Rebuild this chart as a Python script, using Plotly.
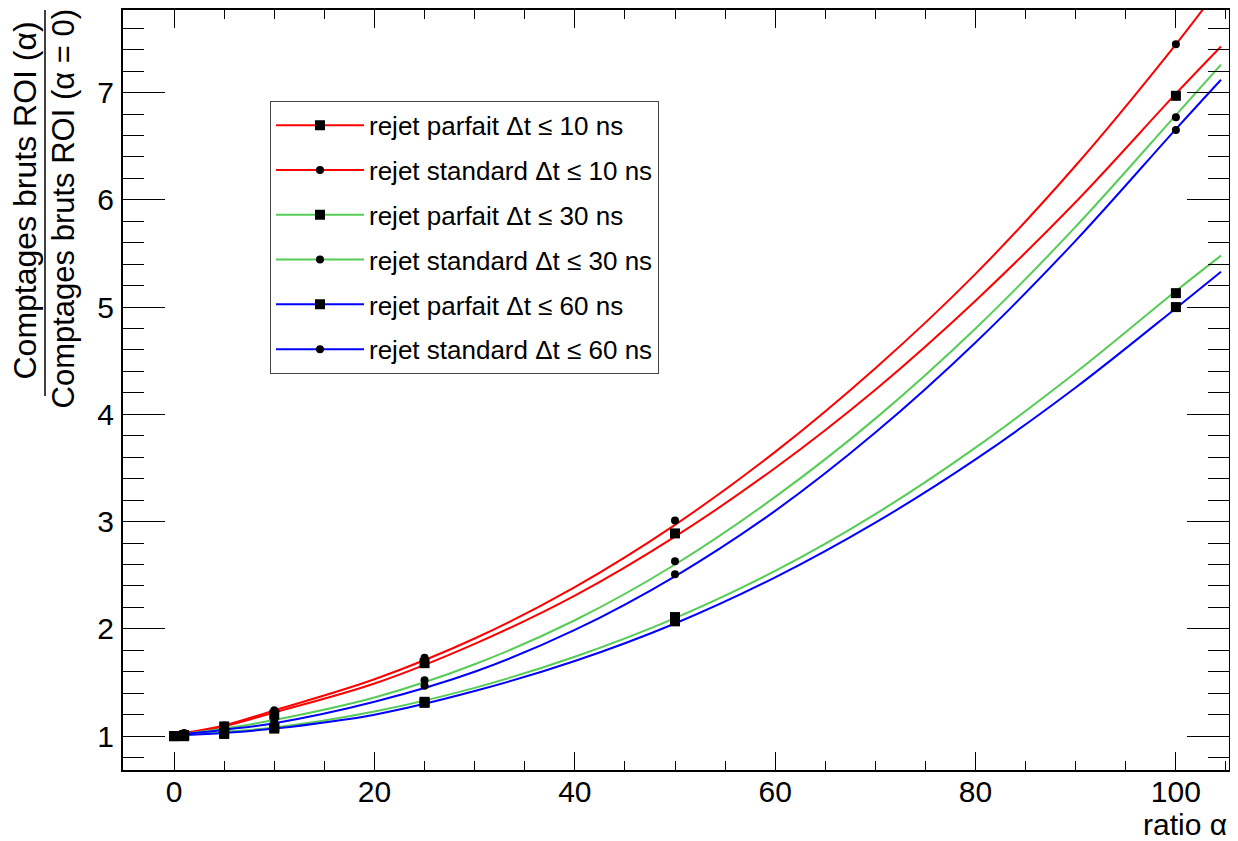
import plotly.graph_objects as go

# ---- data ----
alpha_pts = [0, 1, 5, 10, 25, 50, 100]
red_parfait_pts = [1.0, 1.01, 1.09, 1.20, 1.68, 2.89, 6.97]
red_standard_pts = [1.0, 1.03, 1.10, 1.24, 1.73, 3.01, 7.45]
green_parfait_pts = [1.0, 1.0, 1.03, 1.08, 1.32, 2.11, 5.13]
green_standard_pts = [1.0, 1.02, 1.07, 1.15, 1.52, 2.63, 6.77]
blue_parfait_pts = [1.0, 1.0, 1.02, 1.07, 1.31, 2.07, 5.00]
blue_standard_pts = [1.0, 1.02, 1.06, 1.12, 1.47, 2.51, 6.65]

# fitted curves, read at these alpha values
alpha_fit = [1, 5, 10, 20, 30, 40, 50, 60, 70, 80, 90, 100, 104.5]
red_parfait_fit = [1.02, 1.09, 1.22, 1.49, 1.86, 2.31, 2.86, 3.50, 4.23, 5.06, 5.98, 6.99, 7.43]
red_standard_fit = [1.03, 1.10, 1.24, 1.53, 1.91, 2.39, 2.97, 3.65, 4.43, 5.31, 6.32, 7.45, 8.00]
green_parfait_fit = [1.01, 1.04, 1.08, 1.23, 1.45, 1.74, 2.10, 2.54, 3.07, 3.69, 4.39, 5.15, 5.48]
green_standard_fit = [1.02, 1.07, 1.15, 1.36, 1.67, 2.08, 2.60, 3.23, 3.96, 4.80, 5.75, 6.79, 7.26]
blue_parfait_fit = [1.01, 1.03, 1.07, 1.20, 1.42, 1.70, 2.05, 2.48, 2.99, 3.58, 4.25, 4.99, 5.33]
blue_standard_fit = [1.02, 1.06, 1.12, 1.32, 1.60, 1.99, 2.49, 3.10, 3.83, 4.67, 5.62, 6.66, 7.12]

labels = [
    "rejet parfait \u0394t \u2264 10 ns",
    "rejet standard \u0394t \u2264 10 ns",
    "rejet parfait \u0394t \u2264 30 ns",
    "rejet standard \u0394t \u2264 30 ns",
    "rejet parfait \u0394t \u2264 60 ns",
    "rejet standard \u0394t \u2264 60 ns",
]
colors = ["#ff0000", "#ff0000", "#55cc55", "#55cc55", "#0000ff", "#0000ff"]
symbols = ["square", "circle", "square", "circle", "square", "circle"]
pts = [red_parfait_pts, red_standard_pts, green_parfait_pts,
       green_standard_pts, blue_parfait_pts, blue_standard_pts]
fits = [red_parfait_fit, red_standard_fit, green_parfait_fit,
        green_standard_fit, blue_parfait_fit, blue_standard_fit]

FONT = "Liberation Sans, Arial, sans-serif"
OFF = 8  # page body margin

fig = go.Figure()

for c, f in zip(colors, fits):
    fig.add_trace(go.Scatter(x=alpha_fit, y=f, mode="lines",
                             line=dict(color=c, width=2, shape="spline"),
                             showlegend=False, hoverinfo="skip"))
for s, p in zip(symbols, pts):
    fig.add_trace(go.Scatter(x=alpha_pts, y=p, mode="markers",
                             marker=dict(color="black", symbol=s,
                                         size=10 if s == "square" else 8),
                             showlegend=False))
for i, (lab, c, s) in enumerate(zip(labels, colors, symbols)):
    fig.add_trace(go.Scatter(x=[None], y=[None], mode="lines+markers", name=lab,
                             legendgroup="g%d" % i,
                             line=dict(color=c, width=2),
                             marker=dict(color="black", symbol=s,
                                         size=10 if s == "square" else 8)))

axis_common = dict(showgrid=False, zeroline=False, showline=True,
                   linecolor="black", linewidth=2, mirror="ticks",
                   ticks="inside", tickcolor="black", tickwidth=1,
                   tickfont=dict(family=FONT, size=30, color="black"))

fig.update_xaxes(range=[-5.1, 105.3], dtick=20, tick0=0, ticklen=18,
                 ticklabelstandoff=-6,
                 minor=dict(dtick=5, ticklen=9, ticks="inside",
                            tickcolor="black", tickwidth=1),
                 **axis_common)
fig.update_yaxes(range=[0.684, 7.77], dtick=1, tick0=0, ticklen=42,
                 ticklabelstandoff=1,
                 minor=dict(dtick=0.2, ticklen=21, ticks="inside",
                            tickcolor="black", tickwidth=1),
                 **axis_common)

# page-pixel layout of the reference
PW, PH = 1238, 841
pl, pr, pt, pb = 123, 1229, 8, 770
W, H = PW - OFF, PH - OFF
L, T = pl - OFF, pt - OFF
R = W - (pr - OFF)
B = H - (pb - OFF)
pw, ph = pr - pl, pb - pt


def px2paper_x(px):
    return (px - pl) / pw


def px2paper_y(py):
    return (pb - py) / ph


fig.add_annotation(text="Comptages bruts ROI (\u03b1)", textangle=-90,
                   xref="paper", yref="paper",
                   x=px2paper_x(25), y=px2paper_y(199),
                   xanchor="center", yanchor="middle", showarrow=False,
                   font=dict(family=FONT, size=32, color="black"))
fig.add_annotation(text="Comptages bruts ROI (\u03b1 = 0)", textangle=-90,
                   xref="paper", yref="paper",
                   x=px2paper_x(63), y=px2paper_y(207),
                   xanchor="center", yanchor="middle", showarrow=False,
                   font=dict(family=FONT, size=31, color="black"))
fig.add_shape(type="line", xref="paper", yref="paper",
              x0=px2paper_x(45), x1=px2paper_x(45),
              y0=px2paper_y(8), y1=px2paper_y(395),
              line=dict(color="black", width=1.5))
fig.add_annotation(text="ratio \u03b1", xref="paper", yref="paper",
                   x=1.0, y=px2paper_y(825), xanchor="right", yanchor="middle",
                   showarrow=False,
                   font=dict(family=FONT, size=30, color="black"))

fig.update_layout(
    width=W, height=H,
    margin=dict(l=L, r=R, t=T, b=B),
    plot_bgcolor="white", paper_bgcolor="white",
    font=dict(family=FONT, color="black"),
    legend=dict(x=px2paper_x(270), y=px2paper_y(99), xanchor="left", yanchor="top",
                bgcolor="white", bordercolor="#444444", borderwidth=1,
                font=dict(family=FONT, size=26, color="black"),
                tracegroupgap=8, itemwidth=88),
)

fig.write_html("out.html")
